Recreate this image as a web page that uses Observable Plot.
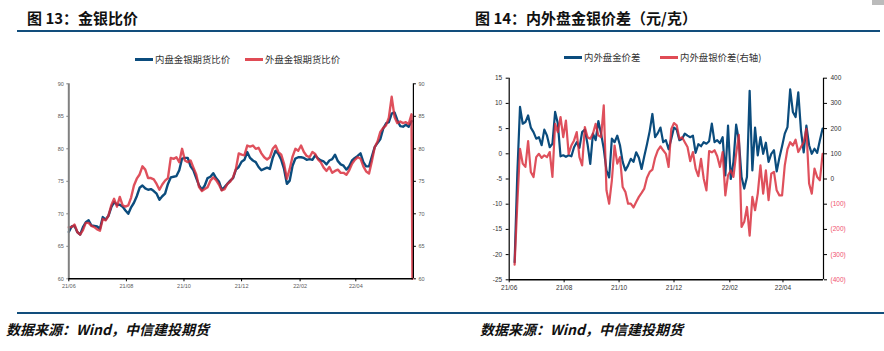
<!DOCTYPE html>
<html><head><meta charset="utf-8">
<script src="https://cdn.jsdelivr.net/npm/d3@7"></script>
<script src="https://cdn.jsdelivr.net/npm/@observablehq/plot@0.6"></script>
<style>
body{margin:0;background:#fff;width:884px;height:351px;position:relative;overflow:hidden;font-family:"Noto Sans CJK SC",sans-serif;}
.title{position:absolute;top:10px;line-height:15px;font-size:15px;font-weight:bold;color:#111;white-space:nowrap}
.rule{position:absolute;background:#124e7c;}
.leg{position:absolute;font-size:9.4px;line-height:10px;color:#333;display:flex;align-items:center;white-space:nowrap}
.sw{display:inline-block;width:18px;height:3px;margin-right:2px}
.src{position:absolute;top:321px;line-height:16px;font-size:14px;font-weight:bold;font-style:italic;color:#111;white-space:nowrap}
.chart{position:absolute;top:40px}
</style></head>
<body>
<div class="title" style="left:27px">图 13：金银比价</div>
<div class="title" style="left:475px">图 14：内外盘金银价差（元/克）</div>
<div class="rule" style="left:17px;width:863px;top:30px;height:2px"></div>
<div class="rule" style="left:17px;width:867px;top:312px;height:1.5px"></div>
<div style="position:absolute;left:872px;top:0;width:12px;height:5px;background:#bbb"></div>
<div class="leg" style="left:135px;top:54px"><span class="sw" style="background:#0b4c7d"></span>内盘金银期货比价</div>
<div class="leg" style="left:245px;top:54px"><span class="sw" style="background:#e04b55"></span>外盘金银期货比价</div>
<div class="leg" style="left:564px;top:52px"><span class="sw" style="background:#0b4c7d"></span>内外盘金价差</div>
<div class="leg" style="left:660px;top:52px"><span class="sw" style="background:#e04b55"></span>内外盘银价差(右轴)</div>
<div id="c1" class="chart" style="left:0"></div>
<div id="c2" class="chart" style="left:442px"></div>
<div class="src" style="left:6px">数据来源：Wind，中信建投期货</div>
<div class="src" style="left:480px">数据来源：Wind，中信建投期货</div>
<script>
const dates = [
"2021-06-01","2021-06-04","2021-06-07","2021-06-10","2021-06-13","2021-06-16","2021-06-19","2021-06-22","2021-06-25","2021-06-28",
"2021-07-01","2021-07-04","2021-07-07","2021-07-10","2021-07-13","2021-07-16","2021-07-19","2021-07-22","2021-07-25","2021-07-28","2021-07-31",
"2021-08-03","2021-08-06","2021-08-09","2021-08-12","2021-08-15","2021-08-18","2021-08-21","2021-08-24","2021-08-27","2021-08-30",
"2021-09-02","2021-09-05","2021-09-08","2021-09-11","2021-09-14","2021-09-17","2021-09-20","2021-09-23","2021-09-26","2021-09-29",
"2021-10-02","2021-10-05","2021-10-08","2021-10-11","2021-10-14","2021-10-17","2021-10-20","2021-10-23","2021-10-26","2021-10-29",
"2021-11-01","2021-11-04","2021-11-07","2021-11-10","2021-11-13","2021-11-16","2021-11-19","2021-11-22","2021-11-25","2021-11-28",
"2021-12-01","2021-12-04","2021-12-07","2021-12-10","2021-12-13","2021-12-16","2021-12-19","2021-12-22","2021-12-25","2021-12-28","2021-12-31",
"2022-01-03","2022-01-06","2022-01-09","2022-01-12","2022-01-15","2022-01-18","2022-01-21","2022-01-24","2022-01-27","2022-01-30",
"2022-02-02","2022-02-05","2022-02-08","2022-02-11","2022-02-14","2022-02-17","2022-02-20","2022-02-23","2022-02-26",
"2022-03-01","2022-03-04","2022-03-07","2022-03-10","2022-03-13","2022-03-16","2022-03-19","2022-03-22","2022-03-25","2022-03-28","2022-03-31",
"2022-04-03","2022-04-06","2022-04-09","2022-04-12","2022-04-15","2022-04-18","2022-04-21","2022-04-24","2022-04-27","2022-04-30",
"2022-05-03","2022-05-06","2022-05-09","2022-05-12","2022-05-15","2022-05-18","2022-05-21","2022-05-24","2022-05-27","2022-05-30",
"2022-05-31"];

// Fig 13: gold/silver ratio
const ratioDomestic = [
67.2,68.05,68.15,67.2,66.8,67.95,68.7,69.0,68.2,68.15,
68.05,67.7,69.5,69.1,69.7,71.0,71.8,71.4,71.4,71.1,70.5,
70.0,71.0,71.7,72.7,74.0,74.35,73.9,73.7,73.8,73.5,
73.1,72.15,72.7,73.1,74.6,75.6,75.7,75.8,76.7,78.5,
78.6,78.6,77.3,76.7,75.5,74.35,73.7,74.35,75.5,75.7,
76.25,75.5,74.97,73.7,74.1,74.6,75.1,75.5,76.8,77.2,
78.0,78.3,79.5,78.6,78.2,77.95,77.2,76.7,76.9,77.1,76.9,
78.6,79.7,79.2,78.3,76.9,74.6,75.1,77.4,78.5,78.7,
78.7,78.6,78.3,78.4,78.3,79.0,78.5,78.2,78.05,
77.6,78.2,78.4,79.1,78.1,77.6,77.4,76.8,77.3,78.2,78.6,
78.9,79.3,77.95,77.3,77.3,78.8,80.25,80.9,81.5,83.1,
83.9,84.1,85.4,85.6,84.4,83.5,83.4,83.7,83.4,84.25,
null];
const ratioForeign = [
67.95,67.95,68.35,67.2,66.8,67.5,68.6,68.6,68.15,67.95,
67.6,67.4,69.2,69.0,69.7,71.3,72.3,71.1,72.6,71.3,71.1,
71.3,72.5,74.35,75.4,76.05,77.3,76.8,75.5,75.5,75.3,
74.6,73.7,74.5,75.1,75.5,78.6,78.45,78.7,77.95,80.0,
78.2,77.95,78.2,77.1,76.05,74.1,73.5,73.8,74.1,75.1,
75.6,75.2,74.5,73.6,73.8,74.6,74.97,75.6,76.9,79.3,
79.1,79.0,80.5,80.35,80.5,80.0,80.15,79.3,78.7,78.35,78.7,
80.0,80.5,79.5,79.1,77.7,75.4,76.9,78.8,80.0,79.7,
80.5,79.5,78.9,78.7,79.5,79.2,78.35,77.9,77.1,
76.6,77.2,76.3,76.6,76.8,76.3,76.3,76.0,76.7,77.7,78.3,
78.7,78.5,77.3,76.5,76.2,78.1,80.25,81.1,82.6,83.2,
83.6,84.8,88.0,84.9,83.95,84.2,83.95,84.1,83.8,85.3,
60];

// Fig 14: spreads (gold 元/克 left axis, silver right axis)
const goldSpread = [
null,null,
-21.5,-4,9.3,5.96,6.3,7.6,5.2,4.3,
3.0,3.3,1.7,4.8,3.6,1.3,2.0,8.3,6.0,-0.5,-0.3,
-0.6,-0.3,-0.5,1.3,2.3,1.2,4.3,4.8,1.9,-2.0,
4.0,2.7,6.5,4.0,1.0,-3.3,-4.7,3.0,2.3,3.6,
1.7,-1.6,-3.3,-2.3,-1.0,-1.6,0.3,-0.8,-3.0,-0.5,
1.9,4.5,7.9,3.3,4.1,5.2,2.3,2.7,0.9,3.0,
5.2,4.8,2.7,3.0,4.0,3.6,3.3,3.6,0.2,1.9,1.5,
2.3,2.0,2.5,6.0,2.3,2.7,2.1,3.3,-4.3,5.6,
-5.0,-1.6,5.8,2.7,-4.6,-6.9,-4.6,12.5,-3.3,
5.2,-0.3,3.3,0,2.2,-1.6,0,0.7,-3.5,-0.8,1.5,
4.0,5.3,12.8,8.3,7.3,12.2,4.6,0.3,5.6,1.7,
0,1.0,0.2,2.7,5.0,
null,null,null,null,null,null];
const silverSpread = [
null,null,
-340,-98,120,61,48,150,28,8,
87,100,84,94,87,107,8,219,186,246,166,
232,100,133,153,186,87,54,206,166,160,
180,219,173,166,292,-45,-98,-5,133,61,
87,-32,-51,-98,-98,-113,-91,-71,-55,-38,
5,28,37,84,114,129,114,100,48,199,
222,213,160,166,146,127,71,107,41,11,80,
1,-45,111,106,114,90,48,107,-65,15,
34,8,100,175,-190,-170,-111,-225,-71,
-124,-58,54,-58,34,-84,21,28,-45,-65,-65,
54,118,146,133,156,107,127,146,199,-18,
-58,41,8,-5,100,
null,null,null,null,null,null];

const xTickDates = ["2021-06-01","2021-08-01","2021-10-01","2021-12-01","2022-02-01","2022-04-01"];
const xTickLabels = ["21/06","21/08","21/10","21/12","22/02","22/04"];
const ratioTicks = [60,65,70,75,80,85,90];
const goldTicks = [-25,-20,-15,-10,-5,0,5,10,15];
const silverTicks = [400,300,200,100,0,-100,-200,-300,-400];

const BLUE = "#0b4c7d", RED = "#d82a38";
const xt = xTickDates.map(d => new Date(d));
const xfmt = d => xTickLabels[xt.findIndex(t => +t === +d)];
const series = (arr, f = v => v) => dates.map((d, i) => ({date: new Date(d), v: arr[i] == null ? null : f(arr[i])})).filter(o => o.v != null);

// silver axis maps onto gold axis: 400 <-> 15, -400 <-> -25
const s2g = r => r / 20 - 5;

const c1 = Plot.plot({
  width: 442, height: 260,
  marginLeft: 68.3, marginRight: 29.1, marginTop: 43.3, marginBottom: 21.7,
  x: {type: "utc", domain: [new Date("2021-06-01"), new Date("2022-06-01")]},
  y: {domain: [60, 90]},
  style: {fontFamily: "'Liberation Sans', Arial, sans-serif", fontSize: "5.5px", color: "#595959", background: "transparent", overflow: "visible"},
  marks: [
    Plot.axisX(xt, {tickSize: 3, tickPadding: 2, tickFormat: xfmt, label: null, stroke: "#000"}),
    Plot.axisY(ratioTicks, {anchor: "left", tickSize: 2, tickPadding: 3, tickFormat: d => String(d), label: null, stroke: "#808080"}),
    Plot.axisY(ratioTicks, {anchor: "right", tickSize: 2, tickPadding: 3, tickFormat: d => String(d), label: null, stroke: "#000"}),
    Plot.line(series(ratioDomestic), {x: "date", y: "v", stroke: BLUE, strokeWidth: 2.4}),
    Plot.line(series(ratioForeign), {x: "date", y: "v", stroke: RED, strokeOpacity: 0.82, strokeWidth: 2.4}),
    Plot.ruleX([new Date("2021-06-01")], {stroke: "#808080", strokeWidth: 2}),
    Plot.ruleX([new Date("2022-06-01")], {stroke: "#000", strokeWidth: 1.2}),
    Plot.ruleY([60], {stroke: "#000", strokeWidth: 1.4})
  ]
});
document.getElementById("c1").append(c1);

const c2 = Plot.plot({
  width: 442, height: 260,
  marginLeft: 66.7, marginRight: 61, marginTop: 37.7, marginBottom: 20.7,
  x: {type: "utc", domain: [new Date("2021-06-01"), new Date("2022-05-16")]},
  y: {domain: [-25, 15]},
  style: {fontFamily: "'Liberation Sans', Arial, sans-serif", fontSize: "6.5px", color: "#333", background: "transparent", overflow: "visible"},
  marks: [
    Plot.axisX(xt, {tickSize: 3, tickPadding: 2.5, tickFormat: xfmt, label: null, stroke: "#000"}),
    Plot.axisY(goldTicks, {anchor: "left", tickSize: 3, tickPadding: 4, tickFormat: d => String(d), label: null, stroke: "#000"}),
    Plot.axisY(silverTicks.filter(r => r >= 0).map(s2g), {anchor: "right", tickSize: 3, tickPadding: 4, tickFormat: d => String(Math.round((d + 5) * 20)), label: null, stroke: "#000", fill: "#333"}),
    Plot.axisY(silverTicks.filter(r => r < 0).map(s2g), {anchor: "right", tickSize: 3, tickPadding: 4, tickFormat: d => "(" + Math.round(-(d + 5) * 20) + ")", label: null, stroke: "#000", fill: "#f0506e"}),
    Plot.line(series(goldSpread), {x: "date", y: "v", stroke: BLUE, strokeWidth: 2.2}),
    Plot.line(series(silverSpread, s2g), {x: "date", y: "v", stroke: RED, strokeOpacity: 0.82, strokeWidth: 2.2}),
    Plot.ruleX([new Date("2021-06-01")], {stroke: "#000", strokeWidth: 1.2}),
    Plot.ruleX([new Date("2022-05-16")], {stroke: "#000", strokeWidth: 1.2}),
    Plot.ruleY([-25], {stroke: "#000", strokeWidth: 1.4})
  ]
});
document.getElementById("c2").append(c2);
</script>
</body></html>
